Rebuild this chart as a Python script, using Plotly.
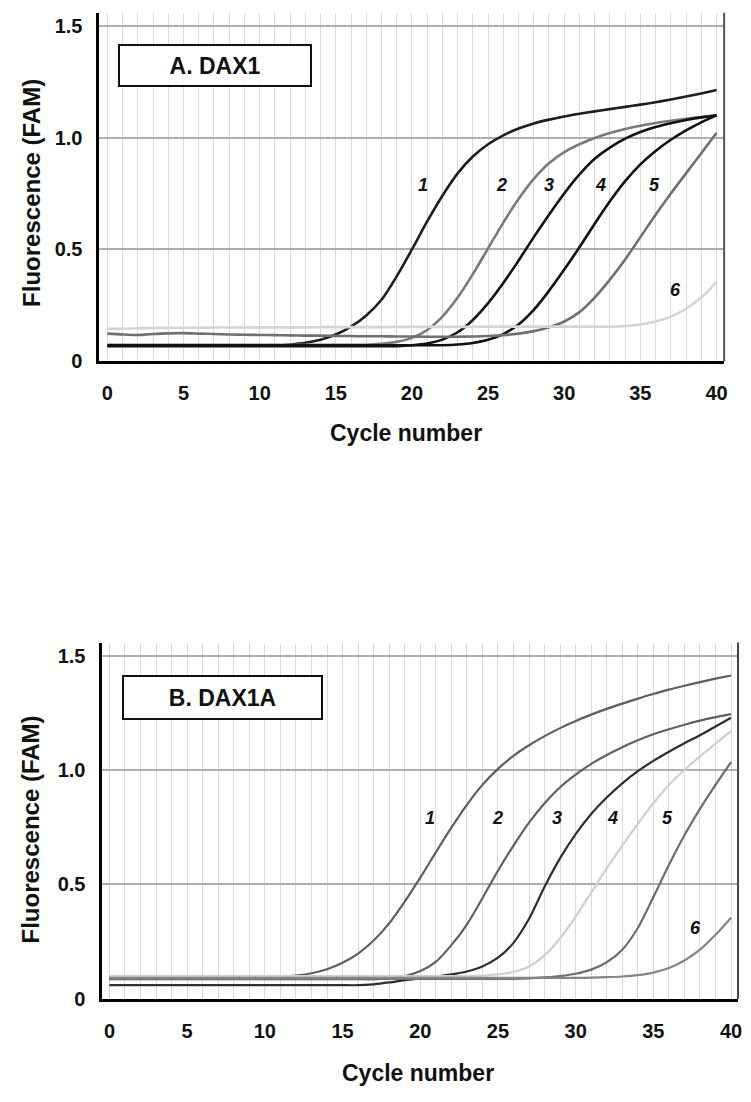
import plotly.graph_objects as go

W, H = 751, 1102

cycles = list(range(41))

# ---------- Panel A: DAX1 ----------
a1 = [0.070]*12 + [0.075, 0.083, 0.097, 0.120, 0.155, 0.205, 0.275, 0.380, 0.500, 0.625, 0.740, 0.840, 0.915,
      0.970, 1.010, 1.040, 1.063, 1.080, 1.094, 1.106, 1.117, 1.127, 1.137, 1.147, 1.158, 1.170, 1.183, 1.197, 1.212]
a2 = [0.074]*18 + [0.078, 0.087, 0.105, 0.140, 0.200, 0.285, 0.390, 0.505, 0.620, 0.725, 0.815, 0.885, 0.935,
      0.970, 0.998, 1.020, 1.038, 1.053, 1.065, 1.075, 1.084, 1.092, 1.099]
a3 = [0.068]*20 + [0.072, 0.080, 0.097, 0.130, 0.185, 0.260, 0.350, 0.450, 0.555, 0.655, 0.750, 0.835, 0.905,
      0.955, 0.995, 1.025, 1.047, 1.064, 1.078, 1.090, 1.099]
a4 = [0.072]*23 + [0.075, 0.082, 0.096, 0.122, 0.165, 0.230, 0.315, 0.410, 0.510, 0.615, 0.715, 0.805, 0.880,
      0.940, 0.990, 1.032, 1.068, 1.099]
a5 = [0.124, 0.120, 0.118, 0.122, 0.125, 0.126, 0.124, 0.122, 0.120, 0.119, 0.118, 0.117, 0.116, 0.115, 0.115,
      0.114, 0.113, 0.112, 0.112, 0.111, 0.111, 0.110, 0.110, 0.110, 0.111, 0.113, 0.117, 0.124, 0.135, 0.152,
      0.178, 0.220, 0.285, 0.365, 0.455, 0.555, 0.655, 0.750, 0.840, 0.930, 1.020]
a6 = [0.145, 0.146, 0.148, 0.149, 0.150, 0.150, 0.150, 0.151, 0.151, 0.151, 0.152, 0.152, 0.152, 0.152, 0.153,
      0.153, 0.153, 0.153, 0.153, 0.154, 0.154, 0.154, 0.154, 0.154, 0.154, 0.155, 0.155, 0.155, 0.155, 0.155,
      0.155, 0.155, 0.155, 0.155, 0.158, 0.165, 0.178, 0.200, 0.235, 0.285, 0.355]

# ---------- Panel B: DAX1A ----------
b1 = [0.095]*11 + [0.097, 0.102, 0.112, 0.130, 0.158, 0.198, 0.255, 0.330, 0.425, 0.530, 0.640, 0.748, 0.848,
      0.935, 1.005, 1.062, 1.108, 1.148, 1.183, 1.214, 1.242, 1.267, 1.290, 1.312, 1.332, 1.351, 1.368, 1.384,
      1.399, 1.413]
b2 = [0.086]*18 + [0.090, 0.100, 0.122, 0.162, 0.235, 0.325, 0.440, 0.560, 0.670, 0.770, 0.855, 0.925, 0.980,
      1.027, 1.066, 1.100, 1.130, 1.156, 1.178, 1.198, 1.216, 1.231, 1.244]
b3 = [0.060]*17 + [0.064, 0.072, 0.082, 0.090, 0.098, 0.107, 0.120, 0.142, 0.180, 0.245, 0.350, 0.490, 0.615,
      0.720, 0.808, 0.880, 0.942, 0.995, 1.040, 1.080, 1.117, 1.152, 1.190, 1.228]
b4 = [0.100]*24 + [0.102, 0.107, 0.118, 0.142, 0.190, 0.265, 0.360, 0.465, 0.570, 0.670, 0.765, 0.855, 0.935,
      1.000, 1.060, 1.115, 1.170]
b5 = [0.088]*27 + [0.090, 0.094, 0.100, 0.110, 0.128, 0.160, 0.215, 0.310, 0.445, 0.585, 0.715, 0.830, 0.935,
      1.035]
b6 = [0.092]*31 + [0.093, 0.095, 0.098, 0.104, 0.115, 0.135, 0.168, 0.215, 0.280, 0.355]

series_a = [a1, a2, a3, a4, a5, a6]
series_b = [b1, b2, b3, b4, b5, b6]
colors_a = ["#1e1e1e", "#7a7a7a", "#111111", "#111111", "#707070", "#d4d4d4"]
colors_b = ["#5e5e5e", "#606060", "#2e2e2e", "#cfcfcf", "#6e6e6e", "#858585"]

curve_names = ["1", "2", "3", "4", "5", "6"]
label_x_a = [20.7, 25.9, 29.0, 32.4, 35.9, 37.3]
label_y_a = [0.79, 0.79, 0.79, 0.79, 0.79, 0.32]
label_x_b = [20.6, 25.0, 28.8, 32.4, 35.9, 37.7]
label_y_b = [0.79, 0.79, 0.79, 0.79, 0.79, 0.31]

x_ticks = [0, 5, 10, 15, 20, 25, 30, 35, 40]
y_ticks = [0, 0.5, 1.0, 1.5]
y_ticktext = ["0", "0.5", "1.0", "1.5"]

panel_titles = ["A. DAX1", "B. DAX1A"]
x_title = "Cycle number"
y_title = "Fluorescence (FAM)"

FONT = "Arial, 'Liberation Sans', sans-serif"

fig = go.Figure()

for s, c in zip(series_a, colors_a):
    fig.add_trace(go.Scatter(x=cycles, y=s, mode="lines", line=dict(color=c, width=2.6, shape="spline", smoothing=0.8),
                             xaxis="x", yaxis="y", showlegend=False, hoverinfo="skip"))
for s, c in zip(series_b, colors_b):
    fig.add_trace(go.Scatter(x=cycles, y=s, mode="lines", line=dict(color=c, width=2.2, shape="spline", smoothing=0.8),
                             xaxis="x2", yaxis="y2", showlegend=False, hoverinfo="skip"))

def px_x(p):
    return p / W

def px_y(p):
    return 1 - p / H

xaxis_common = dict(
    tickmode="array", tickvals=x_ticks, ticktext=[str(t) for t in x_ticks],
    showgrid=True, gridcolor="#dadada", gridwidth=1,
    minor=dict(dtick=1, tick0=0, showgrid=True, gridcolor="#dadada", gridwidth=1),
    showline=True, linecolor="#000000", linewidth=3, zeroline=False, ticks="",
    tickfont=dict(family=FONT, size=20, color="#111111", weight="bold"),
    ticklabelstandoff=12, fixedrange=True,
)
yaxis_common = dict(
    tickmode="array", tickvals=y_ticks, ticktext=y_ticktext,
    showgrid=True, gridcolor="#aeaeae", gridwidth=2,
    showline=True, linecolor="#000000", linewidth=3, zeroline=False, ticks="",
    tickfont=dict(family=FONT, size=20, color="#111111", weight="bold"),
    ticklabelstandoff=10, range=[0, 1.557], fixedrange=True,
)

fig.update_layout(
    width=W, height=H,
    margin=dict(l=0, r=0, t=0, b=0),
    paper_bgcolor="#ffffff", plot_bgcolor="#ffffff",
    xaxis=dict(xaxis_common, domain=[px_x(100), px_x(728)], range=[-0.52, 40.5], anchor="y"),
    yaxis=dict(yaxis_common, domain=[px_y(365), px_y(13)], anchor="x"),
    xaxis2=dict(xaxis_common, domain=[px_x(103), px_x(742)], range=[-0.45, 40.45], anchor="y2"),
    yaxis2=dict(yaxis_common, domain=[px_y(1009), px_y(649)], anchor="x2"),
)

# right borders
fig.add_shape(type="line", xref="x domain", yref="y domain", x0=1, x1=1, y0=0, y1=1,
              line=dict(color="#555555", width=2))
fig.add_shape(type="line", xref="x2 domain", yref="y2 domain", x0=1, x1=1, y0=0, y1=1,
              line=dict(color="#444444", width=2))

annotations = []
# curve labels
for name, lx, ly in zip(curve_names, label_x_a, label_y_a):
    annotations.append(dict(x=lx, y=ly, xref="x", yref="y", text=f"<i>{name}</i>", showarrow=False,
                            xanchor="center", yanchor="middle",
                            font=dict(family=FONT, size=18, color="#111111", weight="bold")))
for name, lx, ly in zip(curve_names, label_x_b, label_y_b):
    annotations.append(dict(x=lx, y=ly, xref="x2", yref="y2", text=f"<i>{name}</i>", showarrow=False,
                            xanchor="center", yanchor="middle",
                            font=dict(family=FONT, size=18, color="#111111", weight="bold")))

# panel title boxes
annotations.append(dict(x=px_x(216.5), y=px_y(66.5), xref="paper", yref="paper", text=panel_titles[0],
                        xanchor="center", yanchor="middle",
                        showarrow=False, width=186, height=35, borderpad=2, bordercolor="#111111", borderwidth=2,
                        bgcolor="#ffffff", font=dict(family=FONT, size=23, color="#111111", weight="bold")))
annotations.append(dict(x=px_x(223.3), y=px_y(704.7), xref="paper", yref="paper", text=panel_titles[1],
                        xanchor="center", yanchor="middle",
                        showarrow=False, width=193, height=37, borderpad=2, bordercolor="#111111", borderwidth=2,
                        bgcolor="#ffffff", font=dict(family=FONT, size=23, color="#111111", weight="bold")))

# axis titles
for yc in [195, 838]:
    annotations.append(dict(x=px_x(31), y=px_y(yc), xref="paper", yref="paper", text=y_title, textangle=-90,
                            xanchor="center", yanchor="middle",
                            showarrow=False, font=dict(family=FONT, size=24, color="#111111", weight="bold")))
annotations.append(dict(x=px_x(408), y=px_y(437), xref="paper", yref="paper", text=x_title, showarrow=False,
                        xanchor="center", yanchor="middle",
                        font=dict(family=FONT, size=23, color="#111111", weight="bold")))
annotations.append(dict(x=px_x(420), y=px_y(1084), xref="paper", yref="paper", text=x_title, showarrow=False,
                        xanchor="center", yanchor="middle",
                        font=dict(family=FONT, size=23, color="#111111", weight="bold")))

fig.update_layout(annotations=annotations)

fig.write_html("out.html")
